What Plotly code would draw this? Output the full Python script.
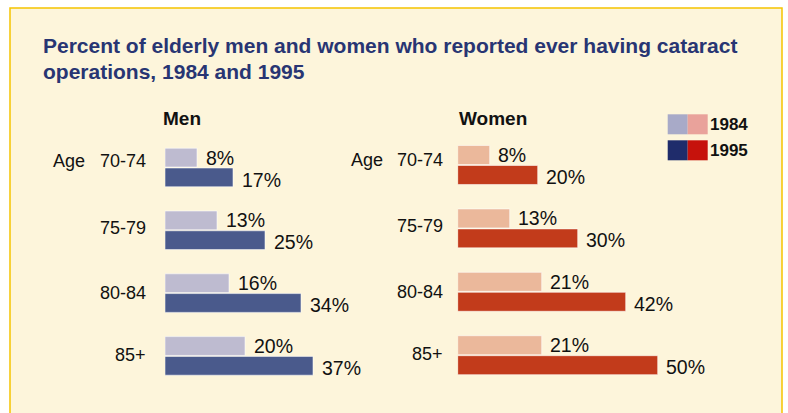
import plotly.graph_objects as go

W, H = 788, 413
ages = ["70-74", "75-79", "80-84", "85+"]
men_1984 = [8, 13, 16, 20]
men_1995 = [17, 25, 34, 37]
women_1984 = [8, 13, 21, 21]
women_1995 = [20, 30, 42, 50]
years = ["1984", "1995"]

FONT = "Liberation Sans, Arial, Helvetica, sans-serif"
C_M84, C_M95 = "#BEBBD0", "#4A5A8C"
C_W84, C_W95 = "#EBB89B", "#C23B1B"
TITLE_C = "#283573"

def px(x):
    return x / W

def py(y):
    return 1 - y / H

fig = go.Figure()
edge = dict(width=1, color="rgba(255,255,255,0.55)")
fig.add_trace(go.Bar(y=ages, x=men_1984, orientation="h", marker=dict(color=C_M84, line=edge),
                     xaxis="x", yaxis="y", name="1984", showlegend=False, hoverinfo="x+y"))
fig.add_trace(go.Bar(y=ages, x=men_1995, orientation="h", marker=dict(color=C_M95, line=edge),
                     xaxis="x", yaxis="y", name="1995", showlegend=False, hoverinfo="x+y"))
fig.add_trace(go.Bar(y=ages, x=women_1984, orientation="h", marker=dict(color=C_W84, line=edge),
                     xaxis="x2", yaxis="y2", name="1984", showlegend=False, hoverinfo="x+y"))
fig.add_trace(go.Bar(y=ages, x=women_1995, orientation="h", marker=dict(color=C_W95, line=edge),
                     xaxis="x2", yaxis="y2", name="1995", showlegend=False, hoverinfo="x+y"))

ax = dict(range=[0, 60], showgrid=False, zeroline=False, showticklabels=False, showline=False, fixedrange=True)
ay = dict(type="category", categoryarray=ages, range=[3.5, -0.5], showgrid=False, zeroline=False,
          showticklabels=False, showline=False, fixedrange=True)

fig.update_layout(
    width=W, height=H, margin=dict(l=0, r=0, t=0, b=0),
    paper_bgcolor="white", plot_bgcolor="rgba(0,0,0,0)",
    barmode="group", bargap=0.37, bargroupgap=0.05,
    font=dict(family=FONT, color="#111111"),
    xaxis=dict(ax, domain=[px(165), px(165 + 240)], anchor="y"),
    yaxis=dict(ay, domain=[py(387.3), py(136.1)], anchor="x"),
    xaxis2=dict(ax, domain=[px(457.7), px(457.7 + 240)], anchor="y2"),
    yaxis2=dict(ay, domain=[py(386.9), py(133.3)], anchor="x2"),
    showlegend=False,
)

shapes = [dict(type="rect", xref="paper", yref="paper", x0=px(10), x1=px(782), y0=-0.2, y1=py(8),
               fillcolor="#FDF5DB", line=dict(color="#F5C400", width=1.5), layer="below")]
# legend swatches
leg_cols = [("#A8AAC8", "#E9A29B"), ("#1F2C6B", "#C6120C")]
leg_y = [114.3, 140.3]
for (cb, cr), y0 in zip(leg_cols, leg_y):
    shapes.append(dict(type="rect", xref="paper", yref="paper", x0=px(667.7), x1=px(687.7),
                       y0=py(y0 + 20), y1=py(y0), fillcolor=cb, line=dict(width=0)))
    shapes.append(dict(type="rect", xref="paper", yref="paper", x0=px(687.7), x1=px(707.7),
                       y0=py(y0 + 20), y1=py(y0), fillcolor=cr, line=dict(width=0)))
fig.update_layout(shapes=shapes)

ann = []
ann.append(dict(xref="paper", yref="paper", x=px(41), y=py(45.5), xanchor="left", yanchor="middle",
                text="<b>Percent of elderly men and women who reported ever having cataract</b>",
                font=dict(size=21, color=TITLE_C), showarrow=False))
ann.append(dict(xref="paper", yref="paper", x=px(41), y=py(71), xanchor="left", yanchor="middle",
                text="<b>operations, 1984 and 1995</b>",
                font=dict(size=21, color=TITLE_C), showarrow=False))
ann.append(dict(xref="paper", yref="paper", x=px(161), y=py(118.5), xanchor="left", yanchor="middle",
                text="<b>Men</b>", font=dict(size=19, color="#111"), showarrow=False))
ann.append(dict(xref="paper", yref="paper", x=px(457), y=py(118.5), xanchor="left", yanchor="middle",
                text="<b>Women</b>", font=dict(size=19, color="#111"), showarrow=False))
for yr, y0 in zip(years, leg_y):
    ann.append(dict(xref="paper", yref="paper", x=px(708), y=py(y0 + 10.5), xanchor="left", yanchor="middle",
                    text="<b>%s</b>" % yr, font=dict(size=17, color="#111"), showarrow=False))

# category labels
for xa, ya, right, age_x, shifts in [("x", "y", 148, 51, [7, 2, 0, 1]), ("x2", "y2", 445, 349, [5, 2, 0, 1])]:
    for a, s in zip(ages, shifts):
        ann.append(dict(xref="paper", yref=ya, x=px(right), y=a, xanchor="right", yanchor="middle",
                        yshift=s, text=a, font=dict(size=18, color="#111"), showarrow=False))
    ann.append(dict(xref="paper", yref=ya, x=px(age_x), y=ages[0], xanchor="left", yanchor="middle",
                    yshift=shifts[0], text="Age", font=dict(size=18, color="#111"), showarrow=False))

# value labels
for xa, ya, v84, v95 in [("x", "y", men_1984, men_1995), ("x2", "y2", women_1984, women_1995)]:
    for a, a84, a95 in zip(ages, v84, v95):
        ann.append(dict(xref=xa, yref=ya, x=a84, y=a, xanchor="left", yanchor="middle", xshift=6.5, yshift=10,
                        text="%d%%" % a84, font=dict(size=19.5, color="#111"), showarrow=False))
        ann.append(dict(xref=xa, yref=ya, x=a95, y=a, xanchor="left", yanchor="middle", xshift=6.5, yshift=-12,
                        text="%d%%" % a95, font=dict(size=19.5, color="#111"), showarrow=False))
fig.update_layout(annotations=ann)

fig.write_html("out.html", config={"displayModeBar": False},
               post_script="document.body.style.margin='0';document.body.style.overflow='hidden';")
